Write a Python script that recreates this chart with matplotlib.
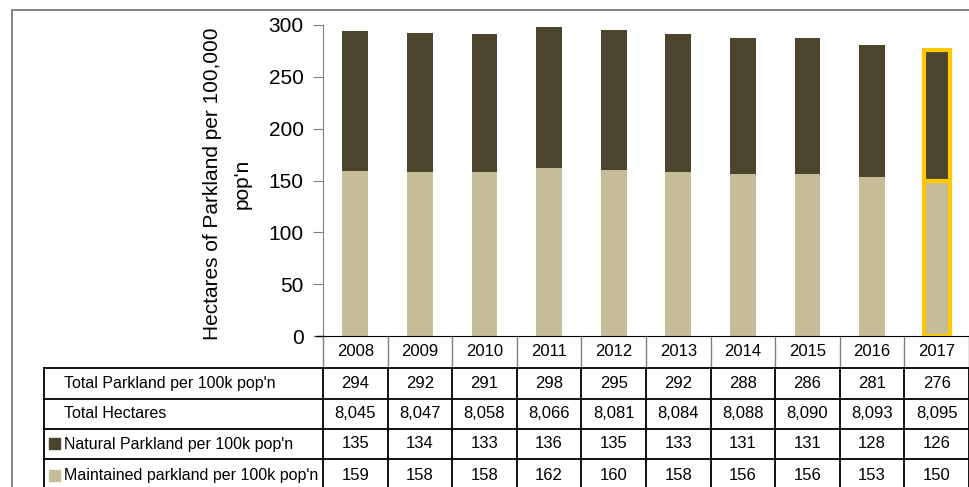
import numpy as np
import matplotlib
matplotlib.use('Agg')
import matplotlib.pyplot as plt
from matplotlib.transforms import blended_transform_factory
from matplotlib.lines import Line2D
from matplotlib.patches import Rectangle

years = ['2008', '2009', '2010', '2011', '2012', '2013', '2014', '2015', '2016', '2017']
total_per_100k = [294, 292, 291, 298, 295, 292, 288, 286, 281, 276]
total_hectares = [8045, 8047, 8058, 8066, 8081, 8084, 8088, 8090, 8093, 8095]
natural = [135, 134, 133, 136, 135, 133, 131, 131, 128, 126]
maintained = [159, 158, 158, 162, 160, 158, 156, 156, 153, 150]
row_labels = ["Total Parkland per 100k pop'n", "Total Hectares",
              "Natural Parkland per 100k pop'n", "Maintained parkland per 100k pop'n"]

DARK = '#4b452e'
LIGHT = '#c4bd97'
HILITE = '#ffc800'

plt.rcParams['font.family'] = ['Liberation Sans', 'DejaVu Sans']

W, H = 970, 487
fig = plt.figure(figsize=(W / 100, H / 100), dpi=100)

def fx(px):
    return px / W

def fy(py):
    return 1 - py / H

# plot area in pixels
x0, x1, ytop, ybot = 323, 969, 25, 336
ax = fig.add_axes([fx(x0), fy(ybot), fx(x1 - x0), (ybot - ytop) / H])

x = np.arange(len(years))
bw = 0.4
ax.bar(x, maintained, bw, color=LIGHT, zorder=2)
ax.bar(x, natural, bw, bottom=maintained, color=DARK, zorder=2)
# highlighted latest year
ax.bar(x[-1:], maintained[-1:], bw, color=LIGHT, edgecolor=HILITE, lw=3, zorder=3)
ax.bar(x[-1:], natural[-1:], bw, bottom=maintained[-1:], color=DARK,
       edgecolor=HILITE, lw=3, zorder=3)

ax.set_xlim(-0.5, len(years) - 0.5)
ax.set_ylim(0, 300)
ax.set_yticks(range(0, 301, 50))
ax.tick_params(axis='y', labelsize=15, length=7, color='#808080', direction='out', pad=7)
ax.tick_params(axis='x', bottom=False, labelbottom=False)
for s in ['top', 'right']:
    ax.spines[s].set_visible(False)
ax.spines['left'].set_color('#808080')
ax.spines['bottom'].set_color('black')
ax.set_ylabel("Hectares of Parkland per 100,000\npop'n", fontsize=15, linespacing=1.75)
ax.yaxis.set_label_coords(-0.11, 0.49)

# extend baseline left to tick
fig.add_artist(Line2D([fx(316), fx(x0)], [fy(ybot), fy(ybot)], color='black', lw=1))

# outer frame
fig.add_artist(Rectangle((fx(12), fy(H + 20)), 1.2, (H + 20 - 10) / H,
                         fill=False, edgecolor='#6e6e6e', lw=1.2, transform=fig.transFigure))

# data table
tr = blended_transform_factory(ax.transData, fig.transFigure)
row_edges = [336, 368, 399, 429, 459, 492]
tfs = 11.5
nfs = 12

for i, y in enumerate(years):
    ax.text(i, fy((row_edges[0] + row_edges[1]) / 2), y, transform=tr,
            ha='center', va='center', fontsize=nfs, clip_on=False)

rows = [[str(v) for v in total_per_100k],
        [f'{v:,}' for v in total_hectares],
        [str(v) for v in natural],
        [str(v) for v in maintained]]
for r, vals in enumerate(rows):
    yc = fy((row_edges[r + 1] + row_edges[r + 2]) / 2)
    for i, v in enumerate(vals):
        ax.text(i, yc, v, transform=tr, ha='center', va='center', fontsize=nfs, clip_on=False)
    fig.text(fx(64), yc, row_labels[r], ha='left', va='center', fontsize=tfs)

# legend keys in table
for r, c in [(2, DARK), (3, LIGHT)]:
    yc = (row_edges[r + 1] + row_edges[r + 2]) / 2
    fig.add_artist(Rectangle((fx(49), fy(yc + 5)), fx(11), 11 / H, color=c,
                             transform=fig.transFigure))

# horizontal lines of table body
for y in row_edges[1:5]:
    fig.add_artist(Line2D([fx(44), fx(x1 + 5)], [fy(y), fy(y)], color='black', lw=1.3))
fig.add_artist(Line2D([fx(44), fx(44)], [fy(368), fy(H + 5)], color='black', lw=1.3))

# vertical separators
for k in range(len(years) + 1):
    xb = k - 0.5
    ax.add_artist(Line2D([xb, xb], [fy(336), fy(368)], transform=tr, color='#808080',
                         lw=1, clip_on=False))
    ax.add_artist(Line2D([xb, xb], [fy(368), fy(H + 5)], transform=tr, color='black',
                         lw=1.3, clip_on=False))

fig.savefig('out.png', dpi=100)
